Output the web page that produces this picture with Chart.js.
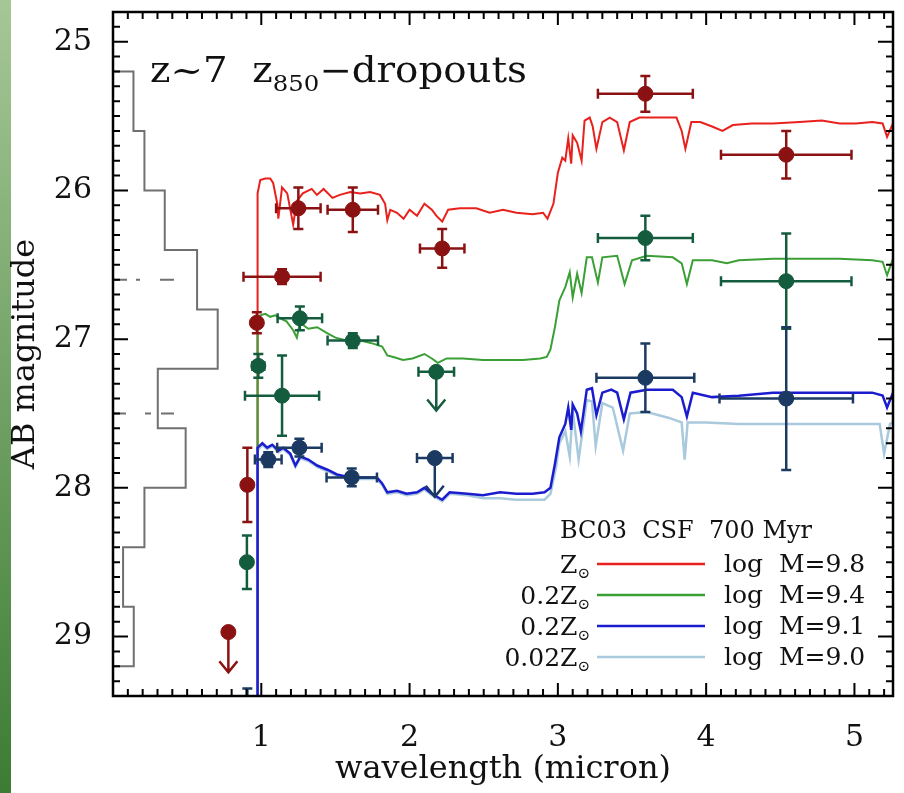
<!DOCTYPE html>
<html>
<head>
<meta charset="utf-8">
<script src="https://cdn.jsdelivr.net/npm/chart.js@4.4.0/dist/chart.umd.min.js"></script>
<style>
  html, body { margin: 0; padding: 0; background: #fff; }
</style>
</head>
<body>
<canvas id="sed" width="904" height="793"></canvas>
<script>
const xTicks = [1, 2, 3, 4, 5];
const yTicks = [25, 26, 27, 28, 29];

// photometry: [wavelength, mag, xerr, yerr]
const redPts = [
  [0.906, 27.98, 0.02, 0.25], [0.97, 26.89, 0.03, 0.07], [1.14, 26.58, 0.26, 0.05],
  [1.25, 26.12, 0.15, 0.14], [1.617, 26.13, 0.17, 0.15], [2.22, 26.39, 0.15, 0.13],
  [3.59, 25.35, 0.32, 0.12], [4.54, 25.76, 0.44, 0.16]
];
const greenPts = [
  [0.903, 28.50, 0.02, 0.18], [0.98, 27.18, 0.04, 0.08], [1.14, 27.38, 0.25, 0.27],
  [1.26, 26.86, 0.15, 0.08], [1.617, 27.01, 0.17, 0.05], [3.59, 26.32, 0.32, 0.15],
  [4.54, 26.61, 0.44, 0.32]
];
const bluePts = [
  [1.047, 27.81, 0.09, 0.05], [1.257, 27.73, 0.15, 0.06], [1.61, 27.93, 0.17, 0.06],
  [3.59, 27.26, 0.33, 0.23], [4.54, 27.40, 0.45, 0.48], [0.906, 29.6, 0, 0.25]
];
// upper limits: [wavelength, mag, xerr, arrow length]
const redLimits = [[0.778, 28.97, 0.03, 0.27]];
const greenLimits = [[2.18, 27.22, 0.12, 0.26]];
const blueLimits = [[2.17, 27.80, 0.12, 0.26]];

// model spectra: [wavelength, mag]
const redSed = [
  [0.972, 29.6], [0.975, 26.02], [0.993, 25.93], [1.027, 25.92], [1.06, 25.92], [1.08, 25.95],
  [1.108, 26.09], [1.115, 26.19], [1.14, 25.98], [1.175, 26.02], [1.215, 26.23], [1.24, 26.07],
  [1.28, 26.02], [1.34, 25.99], [1.375, 26.03], [1.42, 25.99], [1.48, 26.05], [1.53, 26.03],
  [1.60, 26.01], [1.667, 26.02], [1.734, 26.01], [1.80, 26.03], [1.835, 26.09], [1.85, 26.20],
  [1.87, 26.13], [1.915, 26.15], [1.96, 26.19], [2.00, 26.13], [2.05, 26.17], [2.10, 26.09],
  [2.15, 26.13], [2.18, 26.17], [2.22, 26.21], [2.26, 26.13], [2.34, 26.12], [2.45, 26.12],
  [2.54, 26.15], [2.63, 26.13], [2.72, 26.15], [2.83, 26.16], [2.90, 26.15], [2.93, 26.19],
  [2.97, 26.09], [3.00, 25.88], [3.03, 25.78], [3.05, 25.80], [3.07, 25.65], [3.09, 25.82],
  [3.10, 25.63], [3.13, 25.68], [3.16, 25.80], [3.18, 25.53], [3.215, 25.51], [3.235, 25.57],
  [3.26, 25.72], [3.30, 25.54], [3.35, 25.51], [3.40, 25.54], [3.445, 25.73], [3.485, 25.54],
  [3.55, 25.51], [3.62, 25.51], [3.71, 25.51], [3.80, 25.51], [3.835, 25.60], [3.86, 25.72],
  [3.90, 25.54], [3.96, 25.54], [4.04, 25.57], [4.11, 25.60], [4.18, 25.56], [4.31, 25.55],
  [4.45, 25.55], [4.63, 25.54], [4.78, 25.53], [4.90, 25.55], [5.01, 25.55], [5.12, 25.54],
  [5.19, 25.55], [5.22, 25.64], [5.26, 25.55]
];
const greenSed = [
  [0.972, 29.6], [0.975, 26.86], [0.993, 26.84], [1.027, 26.83], [1.06, 26.85], [1.094, 26.84],
  [1.128, 26.86], [1.17, 26.88], [1.215, 26.94], [1.24, 26.99], [1.26, 26.89], [1.317, 26.93],
  [1.377, 26.92], [1.444, 26.96], [1.50, 26.99], [1.58, 27.01], [1.667, 27.01], [1.754, 27.03],
  [1.815, 27.05], [1.85, 27.11], [1.89, 27.12], [1.956, 27.14], [2.02, 27.13], [2.10, 27.10],
  [2.15, 27.13], [2.19, 27.16], [2.25, 27.13], [2.36, 27.13], [2.495, 27.14], [2.63, 27.14],
  [2.765, 27.14], [2.88, 27.13], [2.925, 27.12], [2.95, 27.07], [2.98, 26.92], [3.01, 26.74],
  [3.05, 26.65], [3.08, 26.55], [3.10, 26.72], [3.13, 26.56], [3.16, 26.69], [3.195, 26.45],
  [3.23, 26.45], [3.27, 26.62], [3.30, 26.45], [3.40, 26.44], [3.45, 26.63], [3.50, 26.47],
  [3.60, 26.44], [3.775, 26.45], [3.835, 26.49], [3.87, 26.63], [3.91, 26.47], [4.04, 26.47],
  [4.14, 26.49], [4.22, 26.47], [4.45, 26.46], [4.68, 26.46], [4.90, 26.46], [5.12, 26.47],
  [5.19, 26.48], [5.22, 26.57], [5.26, 26.46]
];
const blueSed = [
  [0.972, 29.6], [0.975, 27.73], [1.007, 27.70], [1.04, 27.73], [1.074, 27.71], [1.115, 27.75],
  [1.148, 27.73], [1.195, 27.77], [1.23, 27.85], [1.263, 27.79], [1.317, 27.81], [1.377, 27.85],
  [1.45, 27.88], [1.51, 27.91], [1.60, 27.93], [1.687, 27.93], [1.78, 27.93], [1.815, 27.97],
  [1.85, 28.03], [1.915, 28.02], [1.98, 28.04], [2.05, 28.03], [2.10, 28.00], [2.15, 28.04],
  [2.22, 28.08], [2.27, 28.03], [2.39, 28.04], [2.495, 28.05], [2.61, 28.03], [2.72, 28.04],
  [2.83, 28.04], [2.91, 28.03], [2.95, 28.00], [2.98, 27.84], [3.01, 27.66], [3.05, 27.57],
  [3.07, 27.46], [3.09, 27.61], [3.10, 27.44], [3.13, 27.50], [3.155, 27.62], [3.195, 27.34],
  [3.23, 27.33], [3.26, 27.51], [3.30, 27.36], [3.36, 27.34], [3.40, 27.36], [3.445, 27.54],
  [3.49, 27.36], [3.60, 27.34], [3.775, 27.34], [3.835, 27.39], [3.87, 27.52], [3.91, 27.36],
  [4.04, 27.39], [4.22, 27.38], [4.45, 27.36], [4.68, 27.36], [4.90, 27.36], [5.12, 27.36],
  [5.19, 27.38], [5.22, 27.46], [5.26, 27.36]
];
const lightBlueSed = [
  [0.972, 29.6], [0.975, 27.75], [1.007, 27.71], [1.04, 27.74], [1.074, 27.72], [1.115, 27.76],
  [1.148, 27.74], [1.195, 27.78], [1.23, 27.86], [1.263, 27.80], [1.317, 27.82], [1.377, 27.86],
  [1.45, 27.89], [1.51, 27.92], [1.60, 27.94], [1.687, 27.94], [1.78, 27.94], [1.815, 27.98],
  [1.85, 28.04], [1.915, 28.03], [1.98, 28.05], [2.05, 28.04], [2.10, 28.01], [2.15, 28.05],
  [2.22, 28.09], [2.27, 28.04], [2.39, 28.05], [2.495, 28.07], [2.61, 28.07], [2.72, 28.08],
  [2.83, 28.08], [2.91, 28.08], [2.95, 28.04], [2.99, 27.85], [3.01, 27.70], [3.05, 27.62],
  [3.08, 27.79], [3.10, 27.48], [3.14, 27.81], [3.195, 27.41], [3.23, 27.42], [3.255, 27.72],
  [3.30, 27.43], [3.37, 27.46], [3.44, 27.75], [3.485, 27.50], [3.60, 27.49], [3.75, 27.53],
  [3.835, 27.56], [3.855, 27.81], [3.875, 27.56], [4.00, 27.56], [4.22, 27.57], [4.45, 27.57],
  [4.68, 27.57], [4.90, 27.57], [5.12, 27.57], [5.17, 27.57], [5.20, 27.77], [5.24, 27.57],
  [5.26, 27.56]
];

// magnitude histogram of the dropout sample (bin edges, bar length in x units)
const histEdges = [25.2, 25.6, 26.0, 26.4, 26.8, 27.2, 27.6, 28.0, 28.4, 28.8, 29.2];
const histCounts = [0.138, 0.212, 0.349, 0.567, 0.706, 0.302, 0.49, 0.212, 0.068, 0.14];
const dashMags = [26.6, 27.5];

const legendModels = [
  { pre: '', sub: '\u2299', label: 'log  M=9.8', color: '#e8211c' },
  { pre: '0.2', sub: '\u2299', label: 'log  M=9.4', color: '#3a9f35' },
  { pre: '0.2', sub: '\u2299', label: 'log  M=9.1', color: '#1c1ccf' },
  { pre: '0.02', sub: '\u2299', label: 'log  M=9.0', color: '#a9c9dd' }
];

const SERIF = 'DejaVu Serif';
const toXY = arr => arr.map(p => ({ x: p[0], y: p[1] }));

function histPath() {
  const pts = [{ x: 0, y: histEdges[0] }];
  histCounts.forEach((c, i) => {
    pts.push({ x: c, y: histEdges[i] });
    pts.push({ x: c, y: histEdges[i + 1] });
  });
  pts.push({ x: 0, y: histEdges[histEdges.length - 1] });
  return pts;
}

function ptSet(arr, color, limit) {
  return {
    data: toXY(arr), errs: arr, limit: limit,
    backgroundColor: color, borderColor: color,
    pointRadius: 7.5, pointBorderWidth: 1, showLine: false
  };
}
function lineSet(data, color, width, dash) {
  return {
    data: data, borderColor: color, borderWidth: width, borderDash: dash || [],
    pointRadius: 0, showLine: true, tension: 0, fill: false
  };
}

// background + green strip
const paper = {
  id: 'paper',
  beforeDraw(chart) {
    const ctx = chart.ctx;
    ctx.save();
    ctx.fillStyle = '#fff';
    ctx.fillRect(0, 0, chart.width, chart.height);
    const g = ctx.createLinearGradient(0, 0, 0, chart.height);
    g.addColorStop(0, '#a6c796');
    g.addColorStop(1, '#3c7c34');
    ctx.fillStyle = g;
    ctx.fillRect(0, 0, 11, chart.height);
    ctx.restore();
  }
};

// error bars and upper-limit arrows
const errBars = {
  id: 'errBars',
  afterDatasetsDraw(chart) {
    const { ctx, chartArea: a, scales: { x, y } } = chart;
    ctx.save();
    ctx.beginPath();
    ctx.rect(a.left, a.top, a.right - a.left, a.bottom - a.top);
    ctx.clip();
    ctx.lineWidth = 2.5;
    chart.data.datasets.forEach(ds => {
      if (!ds.errs) return;
      ctx.strokeStyle = ds.borderColor;
      ds.errs.forEach(p => {
        const px = x.getPixelForValue(p[0]);
        const py = y.getPixelForValue(p[1]);
        ctx.beginPath();
        if (p[2] > 0) {
          const x0 = x.getPixelForValue(p[0] - p[2]);
          const x1 = x.getPixelForValue(p[0] + p[2]);
          ctx.moveTo(x0, py); ctx.lineTo(x1, py);
          ctx.moveTo(x0, py - 5); ctx.lineTo(x0, py + 5);
          ctx.moveTo(x1, py - 5); ctx.lineTo(x1, py + 5);
        }
        if (ds.limit) {
          const yEnd = y.getPixelForValue(p[1] + p[3]);
          ctx.moveTo(px, py); ctx.lineTo(px, yEnd);
          ctx.moveTo(px - 9, yEnd - 11); ctx.lineTo(px, yEnd); ctx.lineTo(px + 9, yEnd - 11);
        } else if (p[3] > 0) {
          const y0 = y.getPixelForValue(p[1] - p[3]);
          const y1 = y.getPixelForValue(p[1] + p[3]);
          ctx.moveTo(px, y0); ctx.lineTo(px, y1);
          ctx.moveTo(px - 5, y0); ctx.lineTo(px + 5, y0);
          ctx.moveTo(px - 5, y1); ctx.lineTo(px + 5, y1);
        }
        ctx.stroke();
      });
    });
    ctx.restore();
  }
};

// frame, inward ticks, label and legend
const frame = {
  id: 'frame',
  afterDraw(chart) {
    const { ctx, chartArea: a, scales: { x, y } } = chart;
    ctx.save();
    ctx.strokeStyle = '#000';
    ctx.lineWidth = 2.5;
    ctx.strokeRect(a.left, a.top, a.right - a.left, a.bottom - a.top);
    ctx.lineWidth = 2;
    ctx.beginPath();
    for (let i = 0; i / 10 <= x.max; i++) {
      const px = x.getPixelForValue(i / 10);
      const len = i % 10 === 0 ? 13 : 7;
      ctx.moveTo(px, a.bottom); ctx.lineTo(px, a.bottom - len);
      ctx.moveTo(px, a.top); ctx.lineTo(px, a.top + len);
    }
    for (let i = Math.ceil(y.min * 10); i / 10 <= y.max; i++) {
      const py = y.getPixelForValue(i / 10);
      const len = i % 10 === 0 ? 15 : 7;
      ctx.moveTo(a.left, py); ctx.lineTo(a.left + len, py);
      ctx.moveTo(a.right, py); ctx.lineTo(a.right - len, py);
    }
    ctx.stroke();

    // sample label, stretched a little to the width of the original lettering
    ctx.fillStyle = '#111';
    ctx.textBaseline = 'alphabetic';
    ctx.textAlign = 'left';
    const parts = [['z~7  z', 35, 0], ['850', 22, 9], ['\u2212dropouts', 35, 0]];
    let w = 0;
    parts.forEach(p => { ctx.font = p[1] + 'px ' + SERIF; w += ctx.measureText(p[0]).width; });
    ctx.save();
    ctx.translate(150, 82);
    ctx.scale(377 / w, 1);
    let tx = 0;
    parts.forEach(p => {
      ctx.font = p[1] + 'px ' + SERIF;
      ctx.fillText(p[0], tx, p[2]);
      tx += ctx.measureText(p[0]).width;
    });
    ctx.restore();

    // model legend
    ctx.font = '24px ' + SERIF;
    ctx.fillText('BC03  CSF  700 Myr', 560, 538);
    legendModels.forEach((m, i) => {
      const ly = 564 + i * 31;
      ctx.font = '15px ' + SERIF;
      const subW = ctx.measureText(m.sub).width;
      ctx.textAlign = 'right';
      ctx.fillText(m.sub, 590, ly + 14);
      ctx.font = '25px ' + SERIF;
      ctx.fillText(m.pre + 'Z', 590 - subW, ly + 9);
      ctx.textAlign = 'left';
      ctx.fillText(m.label, 724, ly + 8);
      ctx.strokeStyle = m.color;
      ctx.lineWidth = 2.5;
      ctx.beginPath();
      ctx.moveTo(597, ly); ctx.lineTo(705, ly);
      ctx.stroke();
    });
    ctx.restore();
  }
};

const tickFont = { family: SERIF, size: 30 };
const titleFont = { family: SERIF, size: 32 };
const noPad = s => { s.paddingTop = 0; s.paddingBottom = 0; s.paddingLeft = 0; s.paddingRight = 0; };

new Chart(document.getElementById('sed'), {
  type: 'scatter',
  data: {
    datasets: [
      ptSet(redPts, '#8b1212', false),
      ptSet(redLimits, '#8b1212', true),
      ptSet(greenPts, '#145c3e', false),
      ptSet(greenLimits, '#145c3e', true),
      ptSet(bluePts, '#1b3a62', false),
      ptSet(blueLimits, '#1b3a62', true),
      lineSet(toXY(blueSed), '#1c1ccf', 2.5),
      lineSet(toXY(lightBlueSed), '#a9c9dd', 2.5),
      lineSet(toXY(greenSed), '#3a9f35', 2),
      lineSet(toXY(redSed), '#e8211c', 2),
      lineSet(histPath(), '#707070', 2),
      lineSet([{ x: 0, y: dashMags[0] }, { x: 0.47, y: dashMags[0] }], '#707070', 2, [14, 9, 4, 20]),
      lineSet([{ x: 0, y: dashMags[1] }, { x: 0.47, y: dashMags[1] }], '#707070', 2, [13, 19, 6, 10])
    ]
  },
  options: {
    responsive: false,
    animation: false,
    devicePixelRatio: 1,
    layout: { padding: { left: 0, top: 12, right: 11, bottom: 0 } },
    plugins: { legend: { display: false }, tooltip: { enabled: false } },
    scales: {
      x: {
        type: 'linear', min: 0, max: 5.26,
        grid: { display: false },
        border: { display: false },
        afterBuildTicks: s => { s.ticks = xTicks.map(v => ({ value: v })); },
        afterFit: s => { s.height = 97; noPad(s); },
        ticks: { padding: 16, color: '#111', font: tickFont, maxRotation: 0, autoSkip: false, callback: v => String(v) },
        title: { display: true, text: 'wavelength (micron)', color: '#111', font: titleFont, padding: { top: 0, bottom: 4 } }
      },
      y: {
        type: 'linear', reverse: true, min: 24.8, max: 29.4,
        grid: { display: false },
        border: { display: false },
        afterBuildTicks: s => { s.ticks = yTicks.map(v => ({ value: v })); },
        afterFit: s => { s.width = 113; noPad(s); },
        ticks: { padding: 13, color: '#111', font: tickFont, autoSkip: false, callback: v => String(v) },
        title: { display: true, text: 'AB magnitude', color: '#111', font: titleFont, padding: { top: 6, bottom: 0 } }
      }
    }
  },
  plugins: [paper, errBars, frame]
});
</script>
</body>
</html>
